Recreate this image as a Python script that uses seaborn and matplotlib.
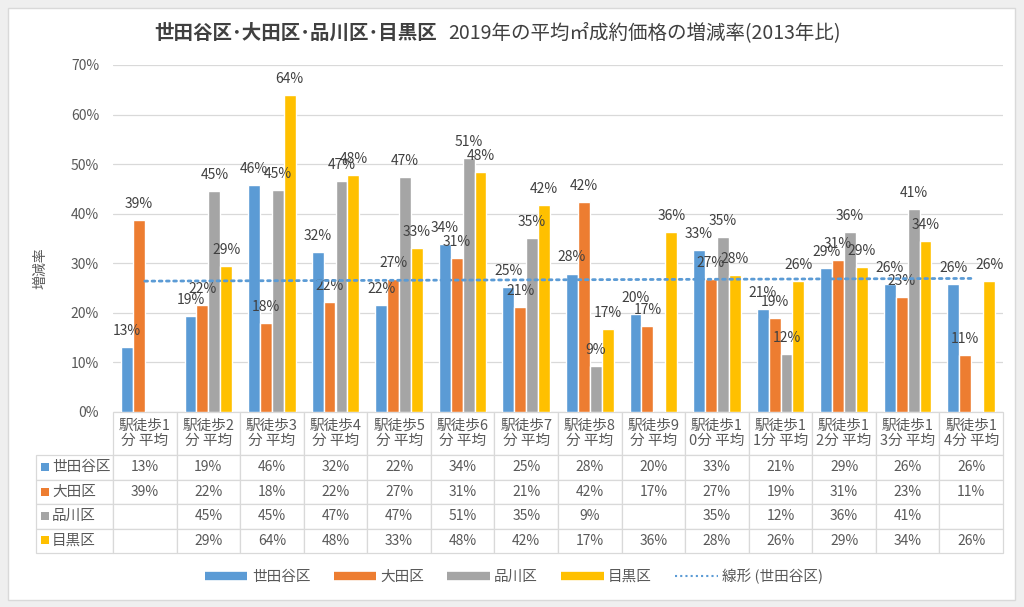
import numpy as np
import pandas as pd
import matplotlib
matplotlib.use("Agg")
import matplotlib.pyplot as plt
import seaborn as sns
from matplotlib.lines import Line2D
from matplotlib.patches import Rectangle
from matplotlib.ticker import FuncFormatter

# ---------------- data ----------------
categories = ["駅徒歩1\n分 平均", "駅徒歩2\n分 平均", "駅徒歩3\n分 平均", "駅徒歩4\n分 平均",
              "駅徒歩5\n分 平均", "駅徒歩6\n分 平均", "駅徒歩7\n分 平均", "駅徒歩8\n分 平均",
              "駅徒歩9\n分 平均", "駅徒歩1\n0分 平均", "駅徒歩1\n1分 平均", "駅徒歩1\n2分 平均",
              "駅徒歩1\n3分 平均", "駅徒歩1\n4分 平均"]
districts = ["世田谷区", "大田区", "品川区", "目黒区"]
setagaya = [13.1, 19.4, 45.8, 32.3, 21.6, 33.9, 25.1, 27.9, 19.8, 32.6, 20.8, 29.1, 25.8, 25.7]
ota = [38.7, 21.6, 17.9, 22.2, 26.8, 31.0, 21.1, 42.4, 17.3, 26.7, 18.9, 30.6, 23.2, 11.4]
shinagawa = [np.nan, 44.6, 44.8, 46.6, 47.4, 51.3, 35.0, 9.2, np.nan, 35.3, 11.6, 36.2, 41.0, np.nan]
meguro = [np.nan, 29.4, 63.9, 47.8, 33.1, 48.3, 41.8, 16.6, 36.2, 27.6, 26.4, 29.2, 34.4, 26.4]
yticks = [0, 10, 20, 30, 40, 50, 60, 70]
title_bold = "世田谷区･大田区･品川区･目黒区"
title_rest = "2019年の平均㎡成約価格の増減率(2013年比)"
ylabel = "増減率"
trend_label = "線形 (世田谷区)"

colors = ["#5B9BD5", "#ED7D31", "#A5A5A5", "#FFC000"]
series = [setagaya, ota, shinagawa, meguro]

df = pd.DataFrame({
    "cat": np.tile(categories, 4),
    "dist": np.repeat(districts, len(categories)),
    "val": np.concatenate(series),
})

# ---------------- style ----------------
sns.set_style("white")
plt.rcParams["font.family"] = ["Noto Sans CJK JP", "DejaVu Sans"]
TXT = "#595959"

W, H = 1024, 607
fig = plt.figure(figsize=(W / 100, H / 100), dpi=100, facecolor="#EFEFEF")
fig.patches.append(Rectangle((8 / W, 1 - 600 / H), (1015 - 8) / W, (600 - 8) / H,
                             transform=fig.transFigure, facecolor="white",
                             edgecolor="#D9D9D9", lw=1, zorder=-10))

ax_l, ax_r, ax_b, ax_t = 113, 1003, 411.7, 65
ax = fig.add_axes([ax_l / W, 1 - ax_b / H, (ax_r - ax_l) / W, (ax_b - ax_t) / H])
ax.set_facecolor("none")

sns.barplot(data=df, x="cat", y="val", hue="dist", palette=colors, width=0.75,
            saturation=1, ax=ax, legend=False, order=categories, hue_order=districts,
            errorbar=None)

for cont in ax.containers:
    ax.bar_label(cont, fmt=lambda v: f"{v:.0f}%", padding=6.5, fontsize=10, color="#404040")

# trend line (linear fit of 世田谷区)
xs = np.arange(len(categories))
coef = np.polyfit(xs, setagaya, 1)
ax.plot(xs, np.polyval(coef, xs), ls=(0, (1, 1.6)), color="#5B9BD5", lw=2,
        zorder=5, dash_capstyle="round")

ax.set_xlim(-0.5, len(categories) - 0.5)
ax.set_ylim(0, 70)
ax.set_yticks(yticks)
ax.yaxis.set_major_formatter(FuncFormatter(lambda v, p: f"{v:.0f}%"))
ax.yaxis.grid(True, color="#D9D9D9", lw=0.9)
ax.set_axisbelow(True)
for s in ax.spines.values():
    s.set_visible(False)
ax.tick_params(axis="y", length=0, labelsize=10, labelcolor=TXT, pad=10)
ax.tick_params(axis="x", length=0, labelbottom=False)
ax.set_xlabel("")
ax.set_ylabel("")

# ---------------- data table ----------------
tab_left, tab_bottom = 36, 553
head_h, row_h = 43.3, 24.4
cell_text = [[""] + categories]
for s in series:
    cell_text.append([""] + ["" if np.isnan(v) else f"{v:.0f}%" for v in s])
cat_w = (ax_r - ax_l) / len(categories)
lab_w = ax_l - tab_left
bbox = [(tab_left - ax_l) / (ax_r - ax_l), -(tab_bottom - ax_b) / (ax_b - ax_t),
        (ax_r - tab_left) / (ax_r - ax_l), (tab_bottom - ax_b) / (ax_b - ax_t)]
tbl = ax.table(cellText=cell_text, cellLoc="center", bbox=bbox,
               colWidths=[lab_w] + [cat_w] * len(categories))
tbl.auto_set_font_size(False)
tbl.set_fontsize(10)
for (r, c), cell in tbl.get_celld().items():
    cell.set_edgecolor("#D9D9D9")
    cell.set_linewidth(0.9)
    cell.set_height(head_h if r == 0 else row_h)
    cell.get_text().set_color(TXT)
    if r == 0:
        cell.get_text().set_fontsize(10.5)
        cell.get_text().set_linespacing(1.15)
    if r == 0 and c == 0:
        cell.set_edgecolor("none")
        cell.set_facecolor("none")

# row labels with coloured squares
for i, (name, col) in enumerate(zip(districts, colors)):
    yc = ax_b + head_h + row_h * (i + 0.5)
    fig.patches.append(Rectangle((41 / W, 1 - (yc + 4) / H), 8 / W, 8 / H,
                                 transform=fig.transFigure, facecolor=col, edgecolor="none"))
    fig.text(52 / W, 1 - yc / H, name, ha="left", va="center", fontsize=10.5, color=TXT)

# ---------------- titles ----------------
fig.text(437 / W, 1 - 33 / H, title_bold, ha="right", va="center", fontsize=14,
         fontweight="bold", color="#404040")
fig.text(448 / W, 1 - 33 / H, title_rest, ha="left", va="center", fontsize=14,
         color="#404040")
fig.text(40 / W, 1 - 268 / H, ylabel, rotation=90, ha="center", va="center",
         fontsize=10, color=TXT)

# ---------------- legend ----------------
handles = [Line2D([0], [0], color=c, lw=6, solid_capstyle="butt") for c in colors]
handles.append(Line2D([0], [0], color="#5B9BD5", lw=1.5, ls=(0, (1, 1.5))))
fig.legend(handles, districts + [trend_label], ncol=5, loc="center",
           bbox_to_anchor=(514 / W, 1 - 576 / H), frameon=False, fontsize=10.5,
           handlelength=2.9, handletextpad=0.3, columnspacing=1.6, labelcolor=TXT)

fig.savefig("out.png", dpi=100, facecolor=fig.get_facecolor())
